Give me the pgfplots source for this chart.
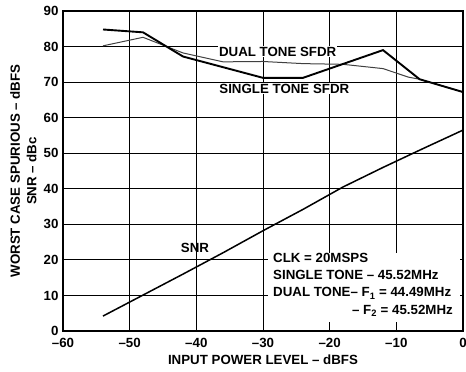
\documentclass[border=0pt]{standalone}
\usepackage{pgfplots}
\pgfplotsset{compat=1.18}
\usepackage{fontspec}
\setmainfont{Liberation Sans}

\newcommand{\lbl}{\bfseries\fontsize{13.3}{15}\selectfont}

\begin{document}
\begin{tikzpicture}
\begin{axis}[
    name=ax,
    scale only axis,
    width=400pt, height=320pt,
    xmin=-60, xmax=0, ymin=0, ymax=90,
    xtick={-60,-50,...,0},
    xticklabels={–60,–50,–40,–30,–20,–10,0},
    ytick={0,10,...,90},
    /pgf/number format/assume math mode=true,
    tick label style={font=\lbl},
    xticklabel style={anchor=base, yshift=-16.5pt},
    yticklabel style={anchor=east, xshift=-1pt},
    major tick length=0pt,
    grid=major,
    major grid style={black, line width=0.9pt},
    axis line style={line width=1.7pt},
    every axis x label/.style={at={(axis description cs:0.5,0)}, anchor=center, yshift=-29pt, font=\lbl},
    every axis y label/.style={at={(axis description cs:0,0.5)}, anchor=center, xshift=-39.6pt, rotate=90, font=\lbl, align=center},
    xlabel={INPUT POWER LEVEL – dBFS},
    ylabel={WORST CASE SPURIOUS – dBFS\\[1.5pt]SNR – dBc},
]
    % label boxes that break the grid
    \node[fill=white, inner sep=1pt, font=\lbl] at (axis cs:-27.8,78.6) {DUAL TONE SFDR};
    \node[fill=white, inner sep=1pt, font=\lbl] at (axis cs:-26.8,68.2) {SINGLE TONE SFDR};
    \fill[white] (axis cs:-29.3,2.6) rectangle (axis cs:-0.4,22);
    \node[anchor=base west, inner sep=0, font=\lbl] at (axis cs:-28.5,19.2) {CLK = 20MSPS};
    \node[anchor=base west, inner sep=0, font=\lbl] at (axis cs:-28.5,14.4) {SINGLE TONE – 45.52MHz};
    \node[anchor=base west, inner sep=0, font=\lbl] at (axis cs:-28.5,9.6) {DUAL TONE– F\textsubscript{1} = 44.49MHz};
    \node[anchor=base east, inner sep=0, font=\lbl] at (axis cs:-1.5,4.6) {– F\textsubscript{2} = 45.52MHz};
    \node[font=\lbl] at (axis cs:-40.2,23.4) {SNR};

    % dual tone SFDR
    \addplot[gray!50!black, line width=1pt] coordinates {
        (-54,80.2) (-48,82.6) (-42,78.2) (-36,75.7) (-30,75.8) (-24,75.2)
        (-18,75.0) (-12,73.8) (-8.2,71.4) (-6.5,70.8) (0,67.2)};
    % single tone SFDR
    \addplot[black, line width=1.9pt] coordinates {
        (-54,84.8) (-48,84.0) (-42,77.2) (-30,71.2) (-24,71.2) (-12,79.0)
        (-6.5,70.8) (0,67.2)};
    % SNR
    \addplot[black, line width=1.5pt] coordinates {
        (-54,4.2) (-48,10.1) (-42,16.0) (-36,22.0) (-30,28.2) (-24,34.2)
        (-18,40.5) (-12,46.0) (-6,51.3) (0,56.5)};
\end{axis}
\pgfresetboundingbox
\path ([xshift=-63pt,yshift=-41pt]ax.south west) rectangle ([xshift=3pt,yshift=11pt]ax.north east);
\end{tikzpicture}
\end{document}
